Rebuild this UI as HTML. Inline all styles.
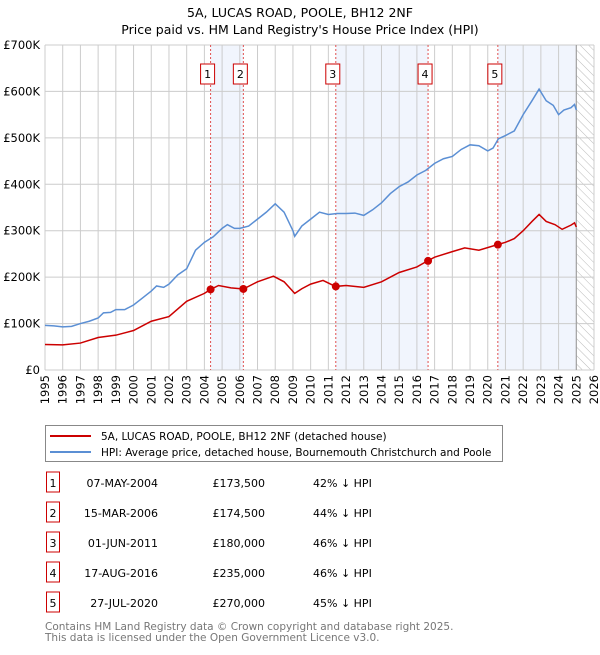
<!DOCTYPE html>
<html><head><meta charset="utf-8"><style>
body{margin:0;width:600px;height:650px;background:#fff;font-family:"Liberation Sans","DejaVu Sans",sans-serif;overflow:hidden}
svg text{font-family:"DejaVu Sans","Liberation Sans",sans-serif}
</style></head><body>
<svg id="c" width="600" height="650">
<defs><pattern id="hatch" width="6" height="6" patternUnits="userSpaceOnUse" patternTransform="rotate(-45)"><line x1="0" y1="0" x2="0" y2="6" stroke="#bbb" stroke-width="1"/></pattern></defs>
<text x="300" y="17" text-anchor="middle" font-size="12.5">5A, LUCAS ROAD, POOLE, BH12 2NF</text>
<text x="300" y="34" text-anchor="middle" font-size="12.5">Price paid vs. HM Land Registry's House Price Index (HPI)</text>
<g id="plot"></g>
<g>
<rect x="45.5" y="425.5" width="457" height="36" fill="#fff" stroke="#888"/>
<line x1="50" y1="436" x2="91" y2="436" stroke="#cc0000" stroke-width="2"/>
<text x="101" y="440" font-size="10.5">5A, LUCAS ROAD, POOLE, BH12 2NF (detached house)</text>
<line x1="50" y1="452" x2="91" y2="452" stroke="#5b8fd4" stroke-width="2"/>
<text x="101" y="456" font-size="10.5">HPI: Average price, detached house, Bournemouth Christchurch and Poole</text>
</g>
<g id="table"></g>
<text x="45" y="630" font-size="10.5" fill="#777">Contains HM Land Registry data © Crown copyright and database right 2025.</text>
<text x="45" y="641" font-size="10.5" fill="#777">This data is licensed under the Open Government Licence v3.0.</text>
</svg>
<script>
const hpiYears=[1995,1995.5,1996,1996.5,1997,1997.5,1998,1998.3,1998.7,1999,1999.5,2000,2000.5,2001,2001.3,2001.7,2002,2002.5,2003,2003.5,2004,2004.5,2005,2005.3,2005.7,2006,2006.5,2007,2007.5,2008,2008.5,2009,2009.1,2009.5,2010,2010.5,2011,2011.5,2012,2012.5,2013,2013.5,2014,2014.5,2015,2015.5,2016,2016.5,2017,2017.5,2018,2018.5,2019,2019.5,2020,2020.3,2020.6,2021,2021.5,2022,2022.5,2022.9,2023.3,2023.7,2024,2024.3,2024.7,2024.9,2025];
const hpiValues=[96,95,93,94,100,105,112,123,124,130,130,140,155,170,181,178,185,205,218,258,275,287,305,313,305,305,310,325,340,358,340,300,288,310,325,340,335,337,337,338,333,345,360,380,395,405,420,430,445,455,460,475,485,483,472,478,498,505,515,550,580,605,580,570,550,560,565,572,560];
const redYears=[1995,1996,1997,1998,1999,2000,2001,2002,2003,2004,2004.35,2004.8,2005.5,2006.2,2007,2007.9,2008.5,2009.1,2009.5,2010,2010.7,2011.4,2012,2013,2014,2015,2016,2016.6,2017,2018,2018.7,2019.5,2020.55,2021,2021.5,2022,2022.5,2022.9,2023.3,2023.8,2024.2,2024.7,2024.9,2025];
const redValues=[55,54,58,70,75,85,105,115,148,165,173.5,182,177,174.5,190,202,190,165,175,185,193,180,182,178,190,210,222,235,243,255,263,258,270,275,283,300,320,335,320,313,303,312,317,308];
const saleLabels=["1","2","3","4","5"];
const saleYears=[2004.35,2006.2,2011.42,2016.63,2020.57];
const saleValues=[173.5,174.5,180,235,270];
const saleDates=["07-MAY-2004","15-MAR-2006","01-JUN-2011","17-AUG-2016","27-JUL-2020"];
const salePrices=["£173,500","£174,500","£180,000","£235,000","£270,000"];
const salePcts=["42% ↓ HPI","44% ↓ HPI","46% ↓ HPI","46% ↓ HPI","45% ↓ HPI"];
const yTicks=[0,100,200,300,400,500,600,700];
const yTickLabels=["£0","£100K","£200K","£300K","£400K","£500K","£600K","£700K"];
const xTicks=[1995,1996,1997,1998,1999,2000,2001,2002,2003,2004,2005,2006,2007,2008,2009,2010,2011,2012,2013,2014,2015,2016,2017,2018,2019,2020,2021,2022,2023,2024,2025,2026];

const L=45,R=594,T=45,B=370,x0=1995,x1=2026,ymax=700;
const X=v=>L+(v-x0)/(x1-x0)*(R-L);
const Y=v=>B-v/ymax*(B-T);
const NS="http://www.w3.org/2000/svg";
const plot=document.getElementById('plot');
function mk(tag,attrs,parent){const e=document.createElementNS(NS,tag);for(const k in attrs)e.setAttribute(k,attrs[k]);(parent||plot).appendChild(e);return e;}

const shade=[[saleYears[0],saleYears[1]],[saleYears[2],saleYears[3]],[saleYears[4],2025]];
shade.forEach(s=>{const r=mk('rect',{x:X(s[0]),y:T,width:X(s[1])-X(s[0]),height:B-T,fill:'#eef3fc',opacity:0.8});

});
const h=mk('rect',{x:X(2025),y:T,width:X(2026)-X(2025),height:B-T,fill:'url(#hatch)'});



xTicks.forEach(t=>{const l=mk('line',{x1:X(t),x2:X(t),y1:T,y2:B,stroke:'#ccc','stroke-width':1});


const tx=mk('text',{x:0,y:0,'font-size':11.5,'text-anchor':'end',transform:`translate(${X(t)+4},${B+5}) rotate(-90)`});
tx.textContent=t;

});
yTicks.forEach((t,i)=>{const l=mk('line',{x1:L,x2:R,y1:Y(t),y2:Y(t),stroke:'#ccc','stroke-width':1});


const tx=mk('text',{x:L-5,y:Y(t)+4,'font-size':11.5,'text-anchor':'end'});
tx.textContent=yTickLabels[i];

});
const vl=mk('line',{x1:X(2025),x2:X(2025),y1:T,y2:B,stroke:'#999','stroke-width':1});



saleYears.forEach((s,i)=>{const l=mk('line',{x1:X(s),x2:X(s),y1:T,y2:B,stroke:'#e05050','stroke-width':1,'stroke-dasharray':'2,2'});


const bx=X(s)-3;
const r=mk('rect',{x:bx-7,y:64,width:14,height:20,fill:'#fff',stroke:'#cc0000'});


const t=mk('text',{x:bx,y:78,'font-size':11,'text-anchor':'middle'});t.textContent=saleLabels[i];

});

const hp=mk('polyline',{points:hpiYears.map((y,i)=>X(y)+','+Y(hpiValues[i])).join(' '),fill:'none',stroke:'#5b8fd4','stroke-width':1.5});


const rp=mk('polyline',{points:redYears.map((y,i)=>X(y)+','+Y(redValues[i])).join(' '),fill:'none',stroke:'#cc0000','stroke-width':1.5});


saleYears.forEach((s,i)=>{const c=mk('circle',{cx:X(s),cy:Y(saleValues[i]),r:4,fill:'#cc0000'});

});

const tb=document.getElementById('table');
saleLabels.forEach((lab,i)=>{const y=483+i*30;
const r=mk('rect',{x:46.5,y:y-11,width:13,height:20,fill:'#fff',stroke:'#cc0000'},tb);


const cells=[[53,lab,'middle','table-row-number'],[158,saleDates[i],'end','table-row-date'],[265,salePrices[i],'end','table-row-price'],[313,salePcts[i],'start','table-row-hpi-diff']];
cells.forEach(c=>{const t=mk('text',{x:c[0],y:y+4,'font-size':11,'text-anchor':c[2]},tb);t.textContent=c[1];

});});
</script>
</body></html>
